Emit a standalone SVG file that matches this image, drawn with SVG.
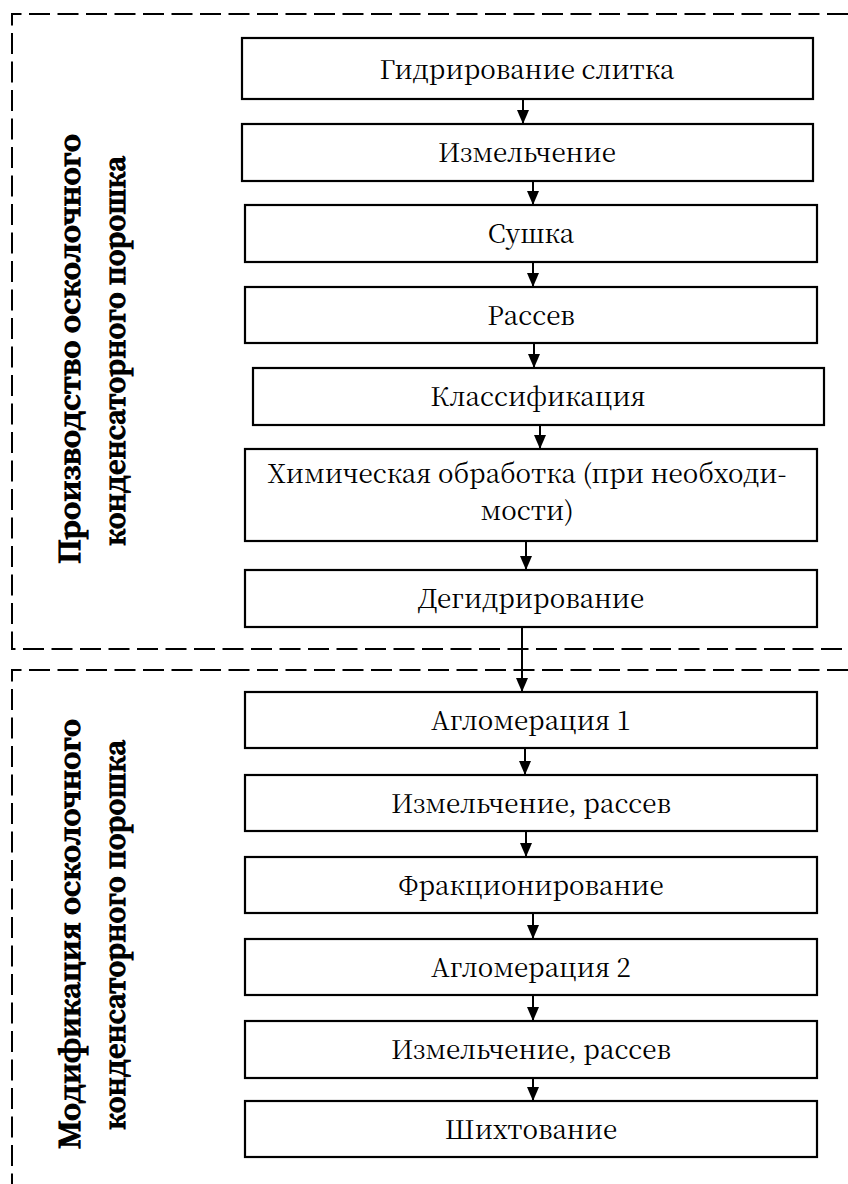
<svg xmlns="http://www.w3.org/2000/svg" width="848" height="1184" viewBox="0 0 848 1184">
<style>
.bx{fill:#fff;stroke:#000;stroke-width:2.2}
.t{font-family:"Noto Serif CJK SC","Liberation Serif",serif;font-size:26px;fill:#000;text-anchor:middle}
.lb{font-family:"Noto Serif CJK SC","Liberation Serif",serif;font-size:28.5px;font-weight:bold;fill:#000;stroke:#000;stroke-width:1.1px;text-anchor:middle}
.dash{fill:none;stroke:#000;stroke-width:2;stroke-dasharray:21 7.5}
.ar{fill:none;stroke:#000;stroke-width:2}
</style>
<defs>
<marker id="ah" viewBox="0 0 14 12" refX="14" refY="6" markerWidth="14" markerHeight="12" markerUnits="userSpaceOnUse" orient="auto">
<path d="M0,0 L14,6 L0,12 Z" fill="#000"/>
</marker>
</defs>
<rect width="848" height="1184" fill="#fff"/>
<g id="sections">
<path class="dash" d="M848,14 H12 V649 H848"/>
<path class="dash" d="M848,670 H12 V1184"/>
</g>
<g id="label-top">
<text class="lb" transform="translate(80,349) rotate(-90)" textLength="430" lengthAdjust="spacingAndGlyphs">Производство осколочного</text>
<text class="lb" transform="translate(125,351) rotate(-90)" textLength="390" lengthAdjust="spacingAndGlyphs">конденсаторного порошка</text>
</g>
<g id="label-bottom">
<text class="lb" transform="translate(80,934) rotate(-90)" textLength="430" lengthAdjust="spacingAndGlyphs">Модификация осколочного</text>
<text class="lb" transform="translate(125,935) rotate(-90)" textLength="390" lengthAdjust="spacingAndGlyphs">конденсаторного порошка</text>
</g>
<g id="connectors">
<line class="ar" x1="523" y1="99" x2="523" y2="124" marker-end="url(#ah)"/>
<line class="ar" x1="533" y1="181" x2="533" y2="205" marker-end="url(#ah)"/>
<line class="ar" x1="533" y1="262" x2="533" y2="287" marker-end="url(#ah)"/>
<line class="ar" x1="534" y1="343" x2="534" y2="368" marker-end="url(#ah)"/>
<line class="ar" x1="540" y1="425" x2="540" y2="449" marker-end="url(#ah)"/>
<line class="ar" x1="526" y1="541" x2="526" y2="570" marker-end="url(#ah)"/>
<line class="ar" x1="522" y1="627" x2="522" y2="692" marker-end="url(#ah)"/>
<line class="ar" x1="525" y1="748" x2="525" y2="775" marker-end="url(#ah)"/>
<line class="ar" x1="526" y1="831" x2="526" y2="857" marker-end="url(#ah)"/>
<line class="ar" x1="533" y1="913" x2="533" y2="939" marker-end="url(#ah)"/>
<line class="ar" x1="533" y1="995" x2="533" y2="1021" marker-end="url(#ah)"/>
<line class="ar" x1="533" y1="1078" x2="533" y2="1101" marker-end="url(#ah)"/>
</g>
<g id="n1"><rect class="bx" x="242" y="38" width="571" height="61"/><text class="t" x="527" y="79">Гидрирование слитка</text></g>
<g id="n2"><rect class="bx" x="242" y="124" width="571" height="57"/><text class="t" x="527" y="162">Измельчение</text></g>
<g id="n3"><rect class="bx" x="245" y="205" width="572" height="57"/><text class="t" x="531" y="243">Сушка</text></g>
<g id="n4"><rect class="bx" x="245" y="287" width="572" height="56"/><text class="t" x="531" y="325">Рассев</text></g>
<g id="n5"><rect class="bx" x="253" y="368" width="571" height="57"/><text class="t" x="538" y="406">Классификация</text></g>
<g id="n6"><rect class="bx" x="245" y="449" width="572" height="92"/><text class="t" x="527" y="483">Химическая обработка (при необходи-</text><text class="t" x="527" y="520">мости)</text></g>
<g id="n7"><rect class="bx" x="245" y="570" width="572" height="57"/><text class="t" x="531" y="608">Дегидрирование</text></g>
<g id="n8"><rect class="bx" x="245" y="692" width="572" height="56"/><text class="t" x="531" y="730">Агломерация 1</text></g>
<g id="n9"><rect class="bx" x="245" y="775" width="572" height="56"/><text class="t" x="531" y="813">Измельчение, рассев</text></g>
<g id="n10"><rect class="bx" x="245" y="857" width="572" height="56"/><text class="t" x="531" y="895">Фракционирование</text></g>
<g id="n11"><rect class="bx" x="245" y="939" width="572" height="56"/><text class="t" x="531" y="977">Агломерация 2</text></g>
<g id="n12"><rect class="bx" x="245" y="1021" width="572" height="57"/><text class="t" x="531" y="1059">Измельчение, рассев</text></g>
<g id="n13"><rect class="bx" x="245" y="1101" width="572" height="56"/><text class="t" x="531" y="1139">Шихтование</text></g>
</svg>
